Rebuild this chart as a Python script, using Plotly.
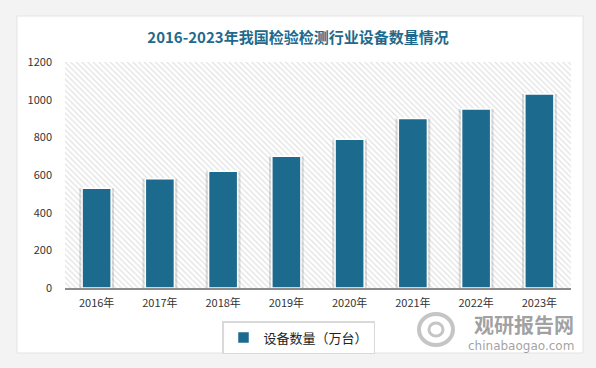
import plotly.graph_objects as go

categories = ["2016年", "2017年", "2018年", "2019年", "2020年", "2021年", "2022年", "2023年"]
values = [530, 580, 620, 700, 790, 900, 950, 1030]
series_name = "设备数量（万台）"
title_text = "2016-2023年我国检验检测行业设备数量情况"
y_ticks = [0, 200, 400, 600, 800, 1000, 1200]

FONT = "Noto Sans CJK SC, Microsoft YaHei, sans-serif"
BAR = "#1c6a8e"

# pixel -> paper helpers (plot area: x 65..571, y 62..288)
def px(x):
    return (x - 65) / 506

def py(y):
    return (288 - y) / 226

fig = go.Figure()

# hatched plot background on hidden base axes (drawn first, below the data)
fig.add_trace(go.Bar(
    x=[0.5], y=[1], width=[1], xaxis="x", yaxis="y",
    marker=dict(color="white", line=dict(width=0),
                pattern=dict(shape="\\", fgcolor="#c4c4c4", bgcolor="white", size=4, solidity=0.3)),
    showlegend=False, hoverinfo="skip",
))

# soft shadow behind bars
fig.add_trace(go.Bar(
    x=categories, y=values, width=0.55, xaxis="x2", yaxis="y2",
    marker=dict(color="rgba(0,0,0,0.13)", line=dict(width=0)),
    showlegend=False, hoverinfo="skip",
))

fig.add_trace(go.Bar(
    x=categories, y=values, name=series_name, width=0.46, xaxis="x2", yaxis="y2",
    marker=dict(color=BAR, line=dict(color="white", width=1.5)),
))

fig.update_layout(
    width=596, height=368,
    margin=dict(l=65, r=25, t=62, b=80, autoexpand=False),
    paper_bgcolor="#f3f3f3",
    plot_bgcolor="rgba(0,0,0,0)",
    barmode="overlay",
    font=dict(family=FONT, size=11, color="#333333"),
    title=dict(text=f"<b>{title_text}</b>", x=0.5, xanchor="center", y=0.897, yanchor="middle",
               font=dict(family=FONT, size=15, color="#1f6a8c")),
    xaxis=dict(range=[0, 1], visible=False, fixedrange=True),
    yaxis=dict(range=[0, 1], visible=False, fixedrange=True),
    xaxis2=dict(type="category", overlaying="x", side="bottom", showgrid=False, showline=True,
                linecolor="#8c8c8c", linewidth=1.5, ticks="", ticklabelstandoff=4,
                tickfont=dict(size=11, color="#333333")),
    yaxis2=dict(range=[0, 1200], overlaying="y", side="left", tickvals=y_ticks, showgrid=False,
                zeroline=False, showline=False, ticks="", ticklabelstandoff=12,
                tickfont=dict(size=11, color="#333333")),
    legend=dict(orientation="h", x=px(222), y=py(321), xanchor="left", yanchor="top",
                bordercolor="#d9d9d9", borderwidth=1.5, bgcolor="white",
                font=dict(size=13, color="#222222"), itemwidth=30, tracegroupgap=0),
    shapes=[
        dict(type="rect", xref="paper", yref="paper", layer="below",
             x0=px(17), x1=px(583), y0=py(353), y1=py(16),
             fillcolor="white", line=dict(color="#e3e3e3", width=1)),
        dict(type="circle", xref="paper", yref="paper", layer="above",
             x0=px(419), x1=px(453), y0=py(345), y1=py(314),
             line=dict(color="rgba(150,150,150,0.55)", width=4)),
        dict(type="circle", xref="paper", yref="paper", layer="above",
             x0=px(429), x1=px(443), y0=py(336), y1=py(323),
             line=dict(color="rgba(150,150,150,0.55)", width=3)),
    ],
    annotations=[
        dict(text="<b>观研报告网</b>", xref="paper", yref="paper", x=px(576), y=py(324),
             xanchor="right", yanchor="middle", showarrow=False,
             font=dict(size=20, color="rgba(130,130,130,0.75)", family=FONT)),
        dict(text="chinabaogao.com", xref="paper", yref="paper", x=px(576), y=py(346),
             xanchor="right", yanchor="middle", showarrow=False,
             font=dict(size=12, color="rgba(130,130,130,0.75)", family="DejaVu Sans")),
    ],
)

fig.write_html("out.html", config={"displayModeBar": False},
               post_script="document.body.style.margin='0';document.body.style.overflow='hidden';")
